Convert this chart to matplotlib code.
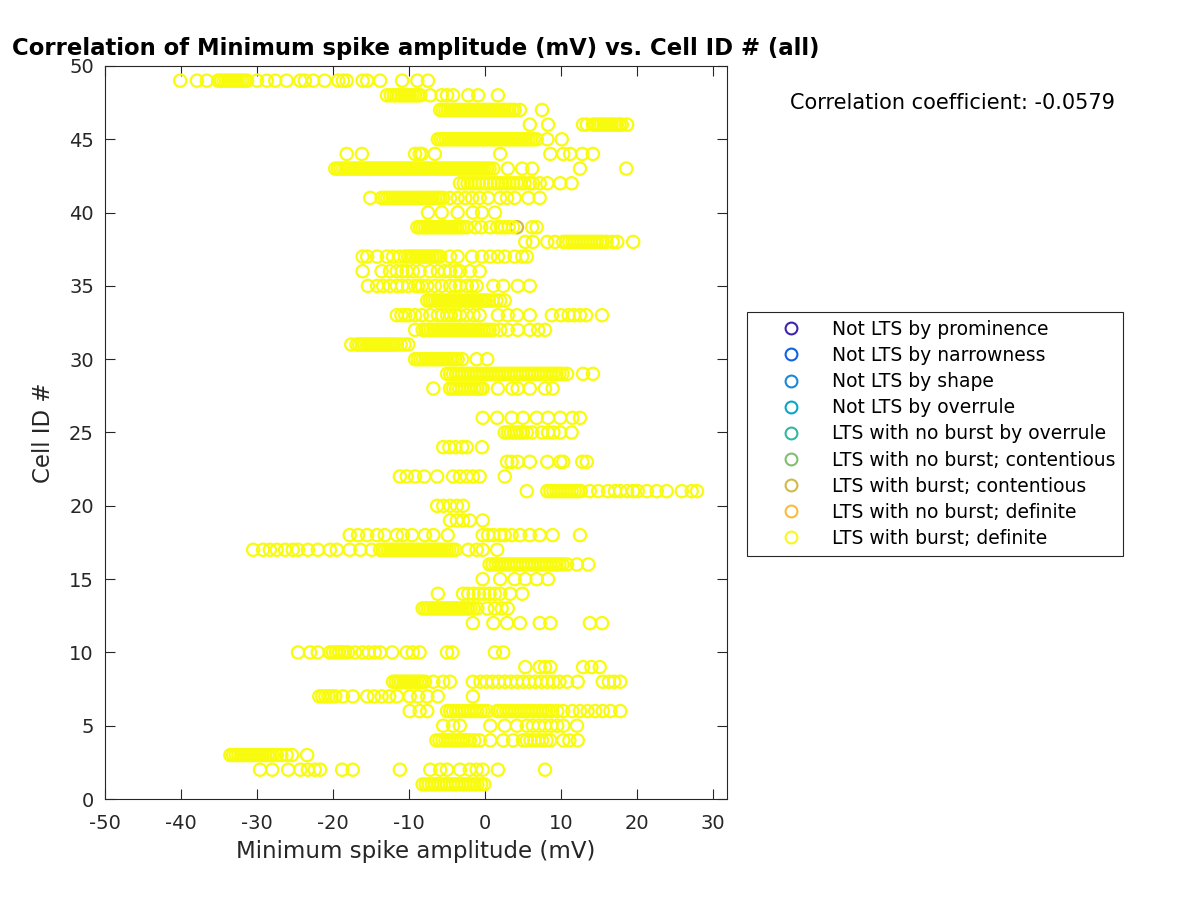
import matplotlib
matplotlib.use("Agg")
import matplotlib.pyplot as plt

plt.rcParams['font.family'] = ['DejaVu Sans']
plt.rcParams['axes.unicode_minus'] = False

# ---- data: minimum spike amplitude (mV) per cell ID, LTS with burst; definite ----
row01 = [-8.2,-7.8,-7.4,-7.0,-6.6,-6.2,-5.8,-5.4,-5.0,-4.6,-4.2,-3.8,-3.4,-3.0,-2.6,-2.2,-1.8,-1.4,-1.0,-0.5,-0.1]
row02 = [-29.6,-28.0,-25.9,-24.3,-23.3,-22.4,-21.7,-18.8,-17.4,-11.2,-7.2,-5.9,-5.0,-3.3,-2.0,-1.1,-0.3,1.7,7.9]
row03 = [-33.5,-33.15,-32.8,-32.45,-32.1,-31.75,-31.4,-31.05,-30.7,-30.35,-30.0,-29.65,-29.3,-28.95,-28.6,-28.25,-27.9,-27.4,-26.8,-26.1,-25.4,-23.4]
row04 = [-6.4,-6.0,-5.6,-5.2,-4.8,-4.4,-4.0,-3.6,-3.2,-2.8,-2.4,-2.0,-1.4,-0.7,0.7,2.4,3.7,5.0,5.5,6.0,6.5,7.0,7.5,8.1,8.6,10.3,11.1,12.2]
row05 = [-5.5,-4.2,-3.3,0.7,2.6,4.2,5.5,6.3,7.1,7.9,8.7,9.5,10.3,12.1]
row06 = [-9.9,-8.6,-7.6,-5.0,-4.6,-4.2,-3.8,-3.4,-3.0,-2.6,-2.2,-1.8,-1.4,-1.0,-0.6,-0.2,0.3,1.6,2.0,2.4,2.8,3.2,3.6,4.0,4.4,4.8,5.2,5.6,6.0,6.4,6.8,7.2,7.6,8.0,8.4,8.8,9.5,10.3,11.5,12.5,13.5,14.5,15.5,16.5,17.8]
row07 = [-21.8,-21.4,-21.0,-20.6,-20.2,-19.7,-18.7,-17.4,-15.5,-14.6,-13.6,-12.6,-11.6,-9.9,-8.8,-7.6,-6.2,-1.6]
row08 = [-12.1,-11.75,-11.4,-11.05,-10.7,-10.35,-10.0,-9.65,-9.3,-8.95,-8.6,-8.25,-7.9,-6.8,-5.5,-4.6,-1.6,-0.6,0.2,1.0,1.8,2.6,3.4,4.2,5.0,5.8,6.6,7.4,8.2,9.0,9.8,10.8,12.2,15.5,16.3,17.0,17.8]
row09 = [5.3,7.2,7.9,8.6,12.9,14.0,15.1]
row10 = [-24.6,-23.0,-22.0,-20.4,-20.0,-19.6,-19.2,-18.8,-18.4,-18.0,-17.1,-16.1,-15.3,-14.5,-13.8,-12.2,-10.3,-9.5,-8.6,-5.0,-4.3,1.3,2.4]
row12 = [-1.6,1.1,2.9,4.6,7.2,8.6,13.8,15.4]
row13 = [-8.2,-7.85,-7.5,-7.15,-6.8,-6.45,-6.1,-5.75,-5.4,-5.05,-4.7,-4.35,-4.0,-3.65,-3.3,-2.95,-2.6,-2.25,-1.9,-1.5,-1.0,0.3,1.3,2.2,3.0]
row14 = [-6.2,-2.9,-2.2,-1.5,-0.8,-0.1,0.6,1.3,2.0,3.3,4.9]
row15 = [-0.3,2.0,3.9,5.3,6.8,8.3]
row16 = [0.6,1.0,1.4,1.8,2.2,2.6,3.0,3.4,3.8,4.2,4.6,5.0,5.4,5.8,6.2,6.6,7.0,7.4,7.8,8.2,8.6,9.0,9.4,9.8,10.2,10.8,12.1,13.6]
row17 = [-30.5,-29.2,-28.3,-27.4,-26.3,-25.3,-24.6,-23.3,-22.0,-20.4,-19.5,-17.8,-16.4,-14.9,-13.8,-13.45,-13.1,-12.75,-12.4,-12.05,-11.7,-11.35,-11.0,-10.65,-10.3,-9.95,-9.6,-9.25,-8.9,-8.55,-8.2,-7.85,-7.5,-7.15,-6.8,-6.45,-6.1,-5.75,-5.4,-5.05,-4.7,-4.3,-3.9,-2.2,-1.1,-0.3,1.6]
row18 = [-17.8,-16.7,-15.5,-14.2,-13.2,-11.6,-10.8,-9.6,-7.9,-6.8,-4.9,-0.3,0.4,1.1,2.0,2.6,3.5,4.6,5.9,7.2,8.9,12.5]
row19 = [-4.6,-3.7,-2.9,-2.0,-0.3]
row20 = [-6.3,-5.5,-4.6,-3.7,-2.9]
row21 = [5.5,8.2,8.6,9.0,9.4,9.8,10.2,10.6,11.0,11.4,11.8,12.2,12.6,13.8,14.9,16.2,17.1,17.8,18.7,19.5,20.1,21.3,22.6,23.9,25.9,27.2,27.9]
row22 = [-11.2,-10.3,-9.2,-8.0,-6.3,-4.2,-3.3,-2.4,-1.6,-0.7,2.6]
row23 = [2.9,3.5,4.3,5.9,8.2,9.9,10.3,12.8,13.4]
row24 = [-5.5,-4.7,-3.9,-3.0,-2.4,-0.4]
row25 = [2.6,3.0,3.4,3.8,4.2,4.6,5.0,5.5,6.2,7.5,8.3,9.0,9.9,11.4]
row26 = [-0.3,1.6,3.5,5.0,6.8,8.3,9.9,11.5,12.5]
row28 = [-6.8,-4.6,-4.2,-3.8,-3.4,-3.0,-2.6,-2.2,-1.8,-1.4,-1.0,-0.6,-0.3,1.7,3.6,4.3,5.9,7.9,8.9]
row29 = [-5.0,-4.6,-4.2,-3.8,-3.4,-3.0,-2.6,-2.2,-1.8,-1.4,-1.0,-0.6,-0.2,0.2,0.6,1.0,1.4,1.8,2.2,2.6,3.0,3.4,3.8,4.2,4.6,5.0,5.4,5.8,6.2,6.6,7.0,7.4,7.8,8.2,8.6,9.0,9.4,9.8,10.2,10.8,12.9,14.2]
row30 = [-9.2,-8.85,-8.5,-8.15,-7.8,-7.45,-7.1,-6.75,-6.4,-6.05,-5.7,-5.35,-5.0,-4.65,-4.3,-3.95,-3.6,-3.0,-1.1,0.3]
row31 = [-17.6,-16.9,-16.55,-16.2,-15.85,-15.5,-15.15,-14.8,-14.45,-14.1,-13.75,-13.4,-13.05,-12.7,-12.35,-12.0,-11.6,-11.1,-10.6,-10.1]
row32 = [-9.2,-8.2,-7.85,-7.5,-7.15,-6.8,-6.45,-6.1,-5.75,-5.4,-5.05,-4.7,-4.35,-4.0,-3.65,-3.3,-2.95,-2.6,-2.25,-1.9,-1.55,-1.2,-0.85,-0.5,-0.15,0.2,0.6,1.1,2.0,3.0,4.3,5.9,7.0,7.9]
row33 = [-11.6,-11.0,-10.5,-10.0,-9.2,-8.3,-7.2,-6.2,-5.6,-5.0,-4.5,-3.9,-3.3,-2.4,-1.5,-0.7,1.7,3.0,4.2,5.9,8.8,10.0,11.0,11.7,12.5,13.3,15.4]
row34 = [-7.6,-7.25,-6.9,-6.55,-6.2,-5.85,-5.5,-5.15,-4.8,-4.45,-4.1,-3.75,-3.4,-3.05,-2.7,-2.35,-2.0,-1.65,-1.3,-0.95,-0.6,-0.25,0.1,0.5,1.0,1.5,2.0,2.6]
row35 = [-15.4,-14.2,-13.4,-12.5,-11.6,-10.9,-10.1,-9.2,-8.8,-8.3,-7.6,-6.6,-5.7,-4.6,-3.9,-3.3,-2.4,-1.7,-1.1,1.1,2.4,4.3,5.9]
row36 = [-16.1,-13.6,-12.5,-11.6,-10.9,-10.3,-9.5,-8.6,-7.2,-6.2,-5.3,-4.6,-3.8,-3.3,-2.0,-0.7]
row37 = [-16.1,-15.5,-14.2,-12.9,-12.1,-11.2,-10.5,-10.1,-9.75,-9.4,-9.05,-8.7,-8.35,-8.0,-7.65,-7.3,-6.95,-6.6,-6.3,-5.9,-4.6,-3.6,-1.7,-0.4,0.7,1.7,2.6,3.9,4.9,5.5]
row38 = [5.3,6.3,8.2,9.2,10.3,10.7,11.1,11.5,11.9,12.3,12.7,13.1,13.5,13.9,14.3,14.7,15.1,15.5,16.0,16.8,17.4,19.5]
row39 = [-8.9,-8.55,-8.2,-7.85,-7.5,-7.15,-6.8,-6.45,-6.1,-5.75,-5.4,-5.05,-4.7,-4.35,-4.0,-3.65,-3.3,-2.9,-2.4,-1.3,-0.5,0.7,1.6,2.1,2.6,3.1,3.7,6.2,6.8]
row40 = [-7.5,-5.7,-3.6,-1.6,-0.4,1.3]
row41 = [-15.1,-13.6,-13.2,-12.85,-12.5,-12.15,-11.8,-11.45,-11.1,-10.75,-10.4,-10.05,-9.7,-9.35,-9.0,-8.65,-8.3,-7.95,-7.6,-7.25,-6.9,-6.55,-6.2,-5.85,-5.5,-4.6,-3.6,-2.6,-1.7,-0.7,0.4,2.0,2.9,3.9,5.7,7.2]
row42 = [-3.3,-2.8,-2.3,-1.8,-1.3,-0.8,-0.3,0.2,0.7,1.2,1.7,2.2,2.7,3.2,3.7,4.2,4.7,5.2,5.9,6.3,7.2,8.2,9.9,11.4]
row43 = [-19.7,-19.35,-19.0,-18.65,-18.3,-17.95,-17.6,-17.25,-16.9,-16.55,-16.2,-15.85,-15.5,-15.15,-14.8,-14.45,-14.1,-13.75,-13.4,-13.05,-12.7,-12.35,-12.0,-11.65,-11.3,-10.95,-10.6,-10.25,-9.9,-9.55,-9.2,-8.85,-8.5,-8.15,-7.8,-7.45,-7.1,-6.75,-6.4,-6.05,-5.7,-5.35,-5.0,-4.65,-4.3,-3.95,-3.6,-3.25,-2.9,-2.55,-2.2,-1.85,-1.5,-1.15,-0.8,-0.45,-0.1,0.25,0.6,1.1,3.0,4.9,6.2,12.5,18.6]
row44 = [-18.2,-16.2,-9.2,-8.6,-8.3,-6.6,2.0,8.6,10.3,11.2,12.8,14.2]
row45 = [-6.2,-5.85,-5.5,-5.15,-4.8,-4.45,-4.1,-3.75,-3.4,-3.05,-2.7,-2.35,-2.0,-1.65,-1.3,-0.95,-0.6,-0.25,0.1,0.45,0.8,1.15,1.5,1.85,2.2,2.55,2.9,3.25,3.6,3.95,4.3,4.65,5.0,5.35,5.7,6.05,6.4,6.8,8.2,10.1]
row46 = [5.9,8.3,12.9,13.4,14.2,14.55,14.9,15.25,15.6,15.95,16.3,16.65,17.0,17.35,17.7,18.0,18.7]
row47 = [-5.9,-5.55,-5.2,-4.85,-4.5,-4.15,-3.8,-3.45,-3.1,-2.75,-2.4,-2.05,-1.7,-1.35,-1.0,-0.65,-0.3,0.05,0.4,0.75,1.1,1.45,1.8,2.15,2.5,2.85,3.2,3.6,3.9,4.6,7.5]
row48 = [-12.9,-12.4,-12.0,-11.65,-11.3,-10.95,-10.6,-10.25,-9.9,-9.55,-9.2,-8.85,-8.5,-7.2,-5.7,-5.0,-4.2,-2.2,-0.9,1.7]
row49 = [-40.1,-37.9,-36.6,-35.1,-34.75,-34.4,-34.05,-33.7,-33.35,-33.0,-32.65,-32.3,-31.95,-31.6,-31.3,-30.0,-28.7,-27.6,-26.1,-24.3,-23.7,-22.6,-21.1,-19.3,-18.7,-18.2,-16.1,-15.5,-13.8,-10.9,-8.9,-7.5]

# LTS with burst; contentious
contentious_cell = [39]
contentious_amp = [4.2]

categories = ["Not LTS by prominence", "Not LTS by narrowness", "Not LTS by shape",
              "Not LTS by overrule", "LTS with no burst by overrule",
              "LTS with no burst; contentious", "LTS with burst; contentious",
              "LTS with no burst; definite", "LTS with burst; definite"]
colors = ["#3e26a8", "#0f62e0", "#1a88d8", "#06a8c6", "#32b7a0",
          "#80bf6e", "#d3b944", "#fbbd37", "#f9fb0e"]

corr_text = "Correlation coefficient: -0.0579"
x_ticks = [-50, -40, -30, -20, -10, 0, 10, 20, 30]
y_ticks = [0, 5, 10, 15, 20, 25, 30, 35, 40, 45, 50]

rows = {1: row01, 2: row02, 3: row03, 4: row04, 5: row05, 6: row06, 7: row07,
        8: row08, 9: row09, 10: row10, 12: row12, 13: row13, 14: row14, 15: row15,
        16: row16, 17: row17, 18: row18, 19: row19, 20: row20, 21: row21, 22: row22,
        23: row23, 24: row24, 25: row25, 26: row26, 28: row28, 29: row29, 30: row30,
        31: row31, 32: row32, 33: row33, 34: row34, 35: row35, 36: row36, 37: row37,
        38: row38, 39: row39, 40: row40, 41: row41, 42: row42, 43: row43, 44: row44,
        45: row45, 46: row46, 47: row47, 48: row48, 49: row49}

def_x, def_y = [], []
for cid, amps in rows.items():
    for a in amps:
        def_x.append(a)
        def_y.append(cid)

fig = plt.figure(figsize=(12, 9), dpi=100)
ax = fig.add_axes([0.0875, 0.1122, 0.5183, 0.8145])

axis_col = "#262626"
msize = 78
lw = 1.6

ax.scatter(contentious_amp, contentious_cell, s=msize, facecolors='none',
           edgecolors=colors[6], linewidths=lw, zorder=3)
ax.scatter(def_x, def_y, s=msize, facecolors='none', edgecolors=colors[8],
           linewidths=lw, zorder=4)

handles = []
for lab, col in zip(categories, colors):
    h, = ax.plot([], [], linestyle='none', marker='o', markersize=8.5,
                 markerfacecolor='none', markeredgecolor=col, markeredgewidth=1.5,
                 label=lab)
    handles.append(h)

ax.set_xlim(-50, 31.84)
ax.set_ylim(0, 50)
ax.set_xticks(x_ticks)
ax.set_yticks(y_ticks)
ax.set_xticklabels([str(t) for t in x_ticks])
ax.set_yticklabels([str(t) for t in y_ticks])
ax.tick_params(direction='in', length=7, width=0.8, top=True, right=True,
               colors=axis_col, labelsize=14)
ax.tick_params(axis='x', pad=11)
ax.tick_params(axis='y', pad=8)
for sp in ax.spines.values():
    sp.set_color(axis_col)
    sp.set_linewidth(0.8)

ax.set_xlabel("Minimum spike amplitude (mV)", fontsize=16.5, color=axis_col, labelpad=5)
ax.set_ylabel("Cell ID #", fontsize=16.5, color=axis_col, labelpad=10)
ax.set_title("Correlation of Minimum spike amplitude (mV) vs. Cell ID # (all)",
             fontsize=16.4, fontweight='bold', color='black', pad=8)

fig.text(0.658, 0.886, corr_text, fontsize=15, ha='left', va='center', color='black')

leg = ax.legend(handles=handles, loc='upper left', bbox_to_anchor=(0.6225, 0.6533),
                bbox_transform=fig.transFigure, fontsize=13.5, frameon=True,
                fancybox=False, edgecolor=axis_col, framealpha=1, borderpad=0.42,
                labelspacing=0.38, handletextpad=0.2, handlelength=3.9, borderaxespad=0)
leg.get_frame().set_linewidth(0.8)

fig.savefig("out.png", dpi=100, facecolor='white')
